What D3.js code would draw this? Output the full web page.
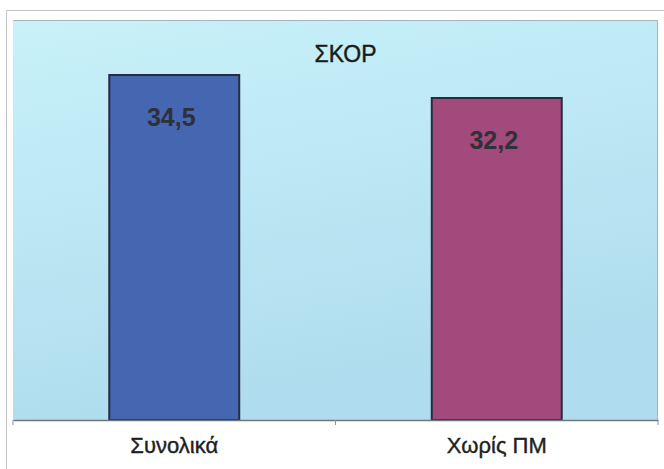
<!DOCTYPE html>
<html>
<head>
<meta charset="utf-8">
<script src="https://cdn.jsdelivr.net/npm/d3@7"></script>
<style>
  body { margin: 0; background: #fff; }
  svg { display: block; font-family: "Liberation Sans", Arial, sans-serif; }
</style>
</head>
<body>
<div id="viz"></div>
<script>
const categories = ["Συνολικά", "Χωρίς ΠΜ"];
const scores = [34.5, 32.2];
const valueLabels = ["34,5", "32,2"];
const barColors = ["#4566b0", "#a24a7c"];
const chartTitle = "ΣΚΟΡ";

const WIDTH = 664, HEIGHT = 469;
const MARGIN = {top: 20, right: 6, bottom: 49, left: 13};

const svg = d3.select("#viz").append("svg")
  .attr("width", WIDTH)
  .attr("height", HEIGHT);

// outer frame
svg.append("path")
  .attr("d", `M6.5,${HEIGHT} V10.5 H${WIDTH}`)
  .attr("fill", "none")
  .attr("stroke", "#c4c4c4");

const defs = svg.append("defs");
const grad = defs.append("linearGradient")
  .attr("id", "bg")
  .attr("x1", 0).attr("y1", 0).attr("x2", 0.3).attr("y2", 1);
grad.append("stop").attr("offset", "0%").attr("stop-color", "#c8f1f9");
grad.append("stop").attr("offset", "100%").attr("stop-color", "#afdcee");

const innerWidth = WIDTH - MARGIN.left - MARGIN.right;
const innerHeight = HEIGHT - MARGIN.top - MARGIN.bottom;

const g = svg.append("g")
  .attr("transform", `translate(${MARGIN.left},${MARGIN.top})`);

g.append("rect")
  .attr("width", innerWidth)
  .attr("height", innerHeight)
  .attr("fill", "url(#bg)");

// plot area border (top + right)
g.append("path")
  .attr("d", `M0,0.5 H${innerWidth - 0.5} V${innerHeight}`)
  .attr("fill", "none")
  .attr("stroke", "#a9b4b8");

const x = d3.scaleBand()
  .domain(categories)
  .range([0, innerWidth])
  .paddingInner(0.597)
  .paddingOuter(0.2985);

const y = d3.scaleLinear()
  .domain([0, 40])
  .range([innerHeight, 0]);

const data = categories.map((c, i) => ({cat: c, value: scores[i], label: valueLabels[i], color: barColors[i]}));

g.selectAll("rect.bar")
  .data(data)
  .join("rect")
  .attr("class", "bar")
  .attr("x", d => x(d.cat))
  .attr("y", d => y(d.value))
  .attr("width", x.bandwidth())
  .attr("height", d => innerHeight - y(d.value))
  .attr("fill", d => d.color)
  .attr("stroke", "#282c40")
  .attr("stroke-width", 2);

g.selectAll("text.val")
  .data(data)
  .join("text")
  .attr("class", "val")
  .attr("x", d => x(d.cat) + x.bandwidth() / 2 - 3)
  .attr("y", d => y(d.value) + 51)
  .attr("text-anchor", "middle")
  .style("font-size", "25px")
  .style("font-weight", "bold")
  .attr("fill", "#2e3138")
  .text(d => d.label);

// title
g.append("text")
  .attr("x", innerWidth / 2 + 10)
  .attr("y", 42)
  .attr("text-anchor", "middle")
  .style("font-size", "23px")
  .attr("fill", "#1a1a1a")
  .attr("stroke", "#1a1a1a")
  .attr("stroke-width", 0.4)
  .text(chartTitle);

// x axis
const xAxis = g.append("g")
  .attr("transform", `translate(0,${innerHeight})`)
  .call(d3.axisBottom(x).tickSize(0).tickPadding(17));
xAxis.select(".domain").attr("stroke", "#6f777c").attr("stroke-width", 1.5);
xAxis.selectAll("text")
  .style("font-size", "22px")
  .style("font-family", "Liberation Sans, Arial, sans-serif")
  .attr("fill", "#1f1f1f")
  .attr("stroke", "#1f1f1f")
  .attr("stroke-width", 0.4);

// small ticks at the band boundaries
const boundaries = [0, x.step(), innerWidth];
xAxis.selectAll("line.sep")
  .data(boundaries)
  .join("line")
  .attr("class", "sep")
  .attr("x1", d => d).attr("x2", d => d)
  .attr("y1", 0).attr("y2", 5)
  .attr("stroke", "#8a9296");
</script>
</body>
</html>
